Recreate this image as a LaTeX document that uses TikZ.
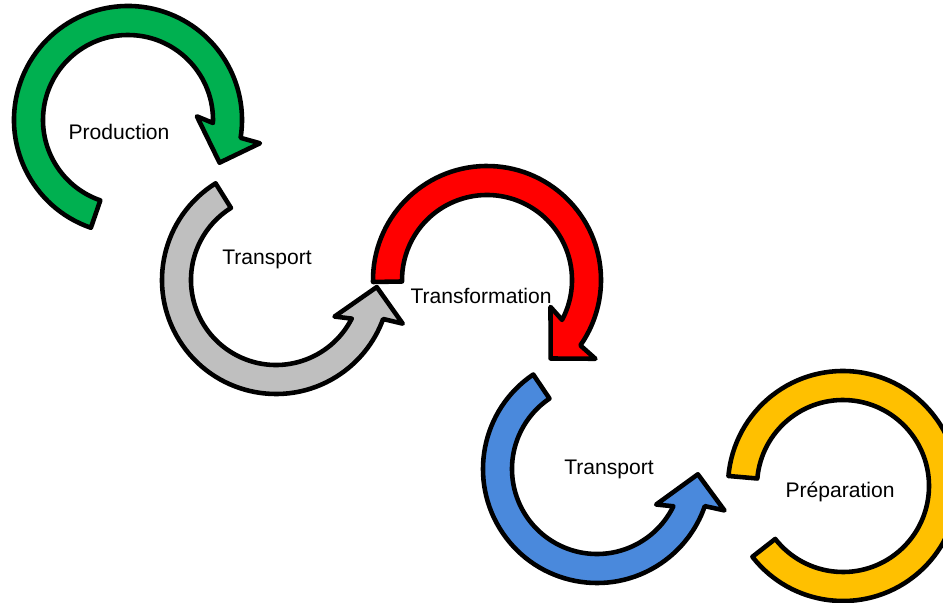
\documentclass[tikz,border=0pt]{standalone}
\usepackage{fontspec}
\setmainfont{Liberation Sans}
\usetikzlibrary{calc}
\definecolor{prodgreen}{RGB}{0,176,80}
\definecolor{transgray}{RGB}{191,191,191}
\definecolor{transfred}{RGB}{255,0,0}
\definecolor{transblue}{RGB}{74,137,220}
\definecolor{prepyellow}{RGB}{255,192,0}

% circular arrow: #1 centre, #2 tail angle, #3 neck angle,
% #4 turn (1 = ccw, -1 = cw), #5 fill colour
\newcommand{\cyclearrow}[5]{%
  \filldraw[ring, fill=#5] ($(#1)+(#2:114)$)
    arc[start angle=#2, end angle={#3+(#4)*7}, radius=114]
    -- ($(#1)+({#3+(#4)*8}:134)$)
    -- ($(#1)+({#3+(#4)*23}:101)$)
    -- ($(#1)+({#3-(#4)*5}:69)$)
    -- ($(#1)+(#3:85)$)
    arc[start angle=#3, end angle=#2, radius=85] -- cycle;}

\begin{document}
\begin{tikzpicture}[
    x=0.02cm, y=0.02cm,
    ring/.style={draw=black, line width=2.6pt, line join=round},
    step label/.style={font=\fontsize{12}{14}\selectfont, inner sep=0pt}
]
\clip (0,0) rectangle (943,602);

\coordinate (c1) at (128,482);
\coordinate (c2) at (276,322);
\coordinate (c3) at (487,322);
\coordinate (c4) at (597,133);
\coordinate (c5) at (843,116);

\cyclearrow{c1}{251}{-2}{-1}{prodgreen}
\cyclearrow{c2}{122}{333}{1}{transgray}
\cyclearrow{c3}{181}{-28}{-1}{transfred}
\cyclearrow{c4}{124}{334}{1}{transblue}
% last step has no head
\filldraw[ring, fill=prepyellow] ($(c5)+(218:115)$)
    arc[start angle=218, end angle=535, radius=115]
    -- ($(c5)+(175:86)$)
    arc[start angle=535, end angle=218, radius=86] -- cycle;

\node[step label] (prod)  at (119,470) {Production};
\node[step label] (trans1) at (267,343) {Transport};
\node[step label] (transf) at (481,306) {Transformation};
\node[step label] (trans2) at (609,133) {Transport};
\node[step label] (prep)  at (840,110) {Préparation};
\end{tikzpicture}
\end{document}
